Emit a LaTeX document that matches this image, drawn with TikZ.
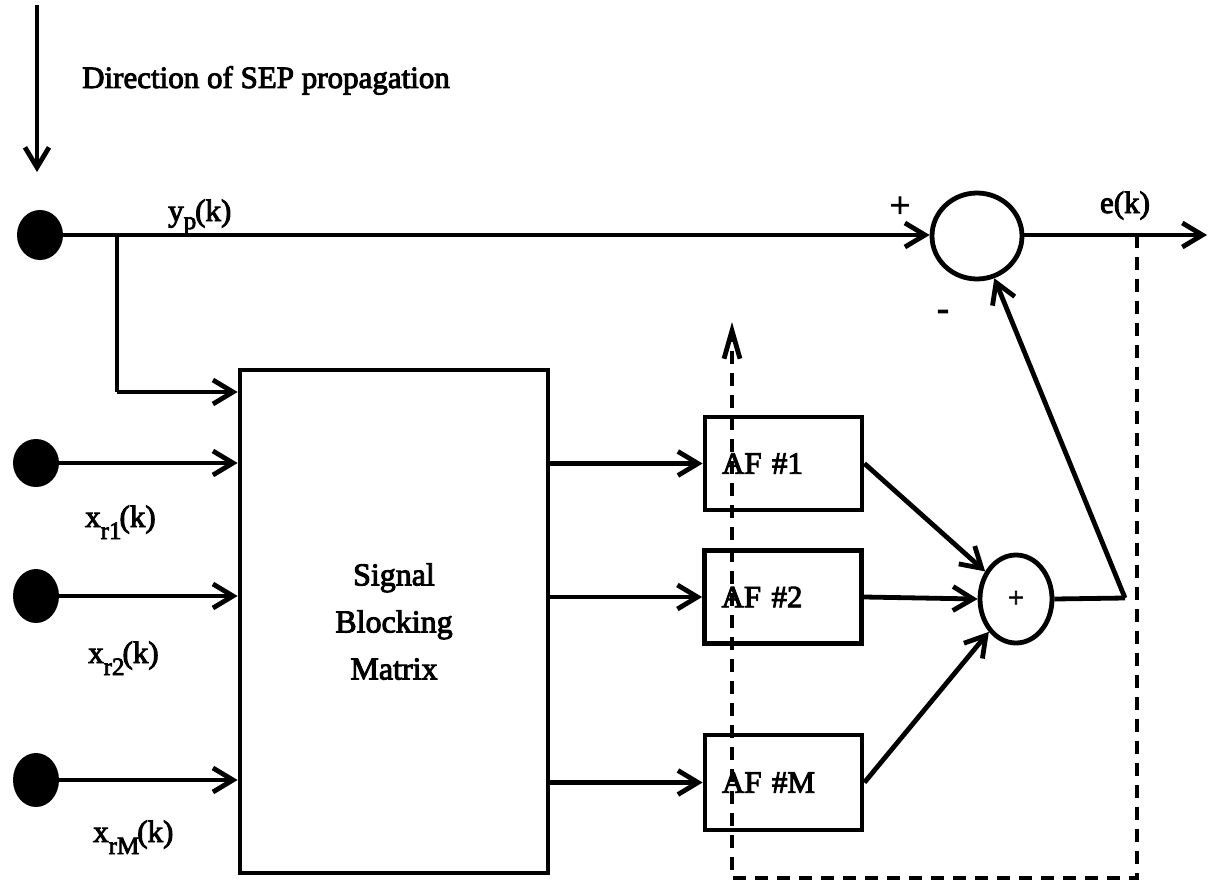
\documentclass[tikz,border=0pt]{standalone}
\usepackage{fontspec}
\setmainfont{Liberation Serif}[FakeBold=3]
\usetikzlibrary{arrows.meta,shapes.geometric,calc}
\newcommand{\sigl}[2]{#1\raisebox{-12pt}{\fontsize{25}{25}\selectfont #2}\kern-2pt(k)}
\tikzset{
  wire/.style={line width=4.8pt},
  arr/.style={wire,-{Straight Barb[length=20pt,width=24pt,line width=4.8pt]}},
  dashwire/.style={line width=4.8pt,dash pattern=on 13pt off 9pt},
  dashar/.style={dashwire,-{Straight Barb[length=28pt,width=16pt,line width=4.8pt]}},
  dot/.style={ellipse,fill=black,draw=none,minimum width=46pt,minimum height=50pt,inner sep=0pt},
  junc/.style={ellipse,draw,line width=4.8pt,inner sep=0pt},
  blockbox/.style={draw,line width=4.8pt,rectangle,inner sep=0pt},
  afbox/.style={draw,line width=4.8pt,rectangle,minimum width=157pt,minimum height=93pt,text width=123pt,inner xsep=17pt,align=left,font=\fontsize{31}{31}\selectfont},
  lbl/.style={inner sep=0pt,font=\fontsize{31}{31}\selectfont}
}
\begin{document}
\begin{tikzpicture}[x=1pt,y=-1pt]
\useasboundingbox (0,0) rectangle (1208,883);
% direction arrow
\coordinate (dirA) at (37,5);
\coordinate (dirB) at (37,172);
\draw[arr] (dirA) -- (dirB);
\node[lbl,anchor=base west] (dirtxt) at (82,88) {Direction of SEP propagation};
% primary input
\node[dot] (p) at (40,235) {};
\node[junc,minimum width=90pt,minimum height=86pt] (sub) at (977,236) {};
\coordinate (br) at (117,235);
\coordinate (eend) at (1207,235);
\coordinate (dtap) at (1137,235);
\draw[arr] (p.east) -- (p.east -| sub.west);
\draw[arr] (sub.east |- eend) -- (eend);
\node[lbl,anchor=base west] (yp) at (168,221) {y\raisebox{-8pt}{\fontsize{25}{25}\selectfont p}\kern-1pt(k)};
\node[lbl,font=\fontsize{36}{36}\selectfont] (plus1) at (900,207) {+};
\node[lbl,anchor=base] (ek) at (1125,213) {e(k)};
\node[lbl,font=\fontsize{36}{36}\selectfont] (minus1) at (943,315) {-};
% signal blocking matrix
\node[blockbox,minimum width=308pt,minimum height=503pt,align=center,font=\fontsize{32}{47}\selectfont] (sbm) at (394,621.5) {Signal\\Blocking\\Matrix};
\coordinate (brc) at (117,392);
\draw[wire] (br) -- (brc);
\draw[arr] (brc) -- (brc -| sbm.west);
% reference inputs
\node[dot,minimum height=48pt] (x1) at (36,463) {};
\node[dot,minimum height=54pt] (x2) at (36,596) {};
\node[dot,minimum height=54pt] (xM) at (36,780) {};
\draw[arr] (x1.east) -- (x1.east -| sbm.west);
\draw[arr] (x2.east) -- (x2.east -| sbm.west);
\draw[arr] (xM.east) -- (xM.east -| sbm.west);
\node[lbl,anchor=base west] (lx1) at (85,527) {\sigl{x}{r1}};
\node[lbl,anchor=base west] (lx2) at (88,663) {\sigl{x}{r2}};
\node[lbl,anchor=base west] (lxM) at (93,842) {\sigl{x}{rM}};
% adaptive filters
\node[afbox] (af1) at (783.5,463.5) {AF \#1};
\node[afbox] (af2) at (783,597) {AF \#2};
\node[afbox,minimum height=95pt] (afM) at (783.5,782.5) {AF \#M};
\draw[arr] (sbm.east |- af1.west) -- (af1.west);
\draw[arr] (sbm.east |- af2.west) -- (af2.west);
\draw[arr] (sbm.east |- afM.west) -- (afM.west);
% summing junction
\node[junc,minimum width=72pt,minimum height=88pt,font=\fontsize{28}{28}\selectfont] (sum) at (1016,599) {+};
\draw[arr] (af1.east) -- (sum);
\draw[arr] (af2.east) -- (sum.west);
\draw[arr] (afM.east) -- (sum);
\coordinate (sc) at (1125,598);
\draw[wire] (sum.east) -- (sc);
\draw[arr] (sc) -- (sub);
% adaptation (dashed) path
\coordinate (d1) at (1137,878);
\coordinate (d2) at (732,878);
\coordinate (d3) at (732,322);
\draw[dashar] (dtap) -- (d1) -- (d2) -- (d3);
\end{tikzpicture}
\end{document}
